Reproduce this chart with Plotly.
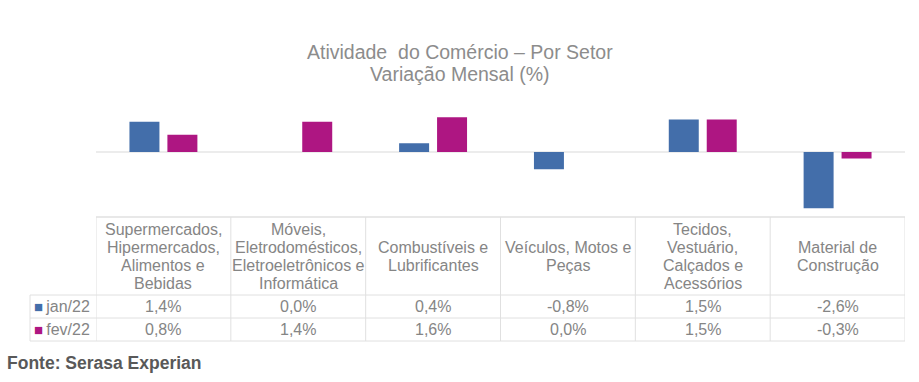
import plotly.graph_objects as go

categories = [
    "Supermercados,<br>Hipermercados,<br>Alimentos e<br>Bebidas",
    "Móveis,<br>Eletrodomésticos,<br>Eletroeletrônicos e<br>Informática",
    "Combustíveis e<br>Lubrificantes",
    "Veículos, Motos e<br>Peças",
    "Tecidos,<br>Vestuário,<br>Calçados e<br>Acessórios",
    "Material de<br>Construção",
]
jan22 = [1.4, 0.0, 0.4, -0.8, 1.5, -2.6]
fev22 = [0.8, 1.4, 1.6, 0.0, 1.5, -0.3]
series_names = ["jan/22", "fev/22"]
colors = ["#436EAA", "#AE1682"]

W, H = 919, 382
def py(px):
    return 1 - px / H

FONT = "Arial, Liberation Sans, sans-serif"
TXT = "#858585"
GRID = "#e0e0e0"

x = list(range(len(categories)))
fig = go.Figure()
for name, vals, col in zip(series_names, [jan22, fev22], colors):
    fig.add_trace(go.Bar(x=x, y=vals, name=name, marker=dict(color=col, line=dict(width=0))))

fig.update_layout(
    width=W, height=H, margin=dict(l=0, r=0, t=0, b=0),
    paper_bgcolor="white", plot_bgcolor="white",
    barmode="group", bargap=0.437, bargroupgap=0.21,
    showlegend=False,
    font=dict(family=FONT, color=TXT),
    xaxis=dict(domain=[96 / W, 905 / W], range=[-0.5, len(categories) - 0.5],
               showticklabels=False, showgrid=False, zeroline=False, ticks=""),
    yaxis=dict(domain=[py(217), py(108.7)], range=[-3, 2], showticklabels=False,
               showgrid=False, zeroline=True, zerolinecolor="#ececec", zerolinewidth=1.5,
               ticks=""),
)

ann = []
def add(text, x, y, xref="paper", size=16, color=TXT, xanchor="center"):
    ann.append(dict(text=text, x=x, y=y, xref=xref, yref="paper", showarrow=False,
                    xanchor=xanchor, yanchor="middle",
                    font=dict(size=size, color=color, family=FONT)))

# title
add("Atividade\u00a0 do Comércio – Por Setor", 0.501, py(52), size=19.5, color="#8c8c8c")
add("Variação Mensal (%)", 0.501, py(74), size=19.5, color="#8c8c8c")

def fmt(v):
    return f"{v:.1f}".replace(".", ",") + "%"

LINE = 18
for i, c in enumerate(categories):
    lines = c.split("<br>")
    n_l = len(lines)
    for j, t in enumerate(lines):
        yy = 256 + (j - (n_l - 1) / 2) * LINE
        add(t, i, py(yy), xref="x")
    add(fmt(jan22[i]), i, py(306.5), xref="x")
    add(fmt(fev22[i]), i, py(329.5), xref="x")

for name, col, yy in zip(series_names, colors, [306.5, 329.5]):
    add(f'<span style="color:{col};font-size:15px">■</span>\u2009{name}', 32 / W, py(yy), xanchor="left")

ann.append(dict(text="<b>Fonte: Serasa Experian</b>", x=5 / W, y=py(363), xref="paper", yref="paper",
                xanchor="left", yanchor="middle", showarrow=False,
                font=dict(size=17.5, color="#595959", family=FONT)))
fig.update_layout(annotations=ann)

shapes = []
n = len(categories)
shapes.append(dict(type="line", xref="x", yref="paper", x0=-0.5, x1=n - 0.5, y0=py(217), y1=py(217),
                   line=dict(color=GRID, width=1.5)))
for yy in [295, 318, 341]:
    shapes.append(dict(type="line", xref="paper", yref="paper", x0=30 / W, x1=905 / W, y0=py(yy), y1=py(yy),
                       line=dict(color=GRID, width=1)))
for k in range(n + 1):
    shapes.append(dict(type="line", xref="x", yref="paper", x0=k - 0.5, x1=k - 0.5, y0=py(217), y1=py(341),
                       line=dict(color=GRID, width=1)))
shapes.append(dict(type="line", xref="paper", yref="paper", x0=30 / W, x1=30 / W, y0=py(295), y1=py(341),
                   line=dict(color=GRID, width=1)))
fig.update_layout(shapes=shapes)

fig.write_html("out.html", config={"displayModeBar": False},
               post_script="document.body.style.margin='0';")
